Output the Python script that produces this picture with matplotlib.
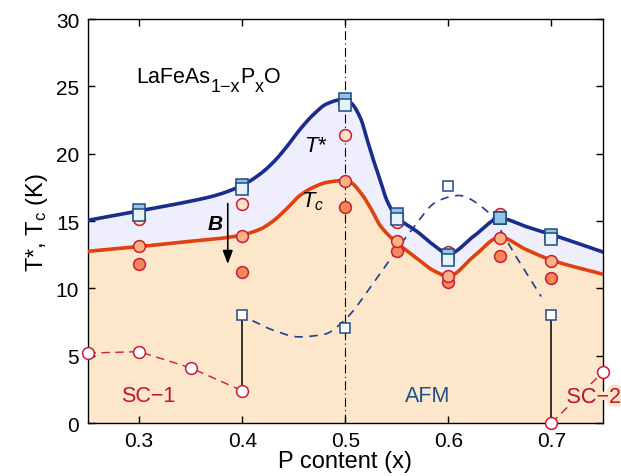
import numpy as np
import matplotlib
matplotlib.use('Agg')
import matplotlib.pyplot as plt
import matplotlib.patheffects as pe

plt.rcParams['font.family'] = ['Liberation Sans', 'DejaVu Sans']
plt.rcParams['mathtext.fontset'] = 'custom'
plt.rcParams['mathtext.rm'] = 'Liberation Sans'
plt.rcParams['mathtext.it'] = 'Liberation Sans:italic'
plt.rcParams['mathtext.bf'] = 'Liberation Sans:bold'

# T* curve (upper boundary)
tstar_x = [0.25, 0.30, 0.345, 0.374, 0.40, 0.4175, 0.43, 0.443, 0.456, 0.469,
           0.482, 0.497, 0.505, 0.515, 0.521, 0.527, 0.534, 0.540, 0.547,
           0.553, 0.570, 0.586, 0.60, 0.625, 0.65, 0.675, 0.70, 0.75]
tstar_y = [15.05, 15.76, 16.4, 16.9, 17.65, 18.5, 19.35, 20.5, 21.8, 22.9,
           23.7, 24.02, 23.8, 22.6, 21.1, 19.6, 18.0, 16.6, 15.6,
           15.1, 14.2, 13.2, 12.55, 13.9, 15.2, 14.6, 14.0, 12.7]

# Tc curve
tc_x = [0.25, 0.30, 0.345, 0.396, 0.4175, 0.43, 0.443, 0.456, 0.469, 0.482,
        0.497, 0.505, 0.515, 0.525, 0.534, 0.544, 0.553, 0.570, 0.586, 0.60,
        0.625, 0.65, 0.675, 0.70, 0.75]
tc_y = [12.75, 13.1, 13.46, 13.9, 14.4, 15.0, 15.9, 16.9, 17.5, 17.87,
        18.0, 17.87, 17.1, 15.9, 14.65, 13.8, 13.2, 12.2, 11.3, 10.9,
        12.4, 13.8, 12.9, 12.1, 11.05]

# T* squares (two overlapping sets)
sq_x = [0.30, 0.40, 0.50, 0.55, 0.60, 0.65, 0.70]
sq_hi = [15.8, 17.7, 24.05, 15.5, 12.5, 15.2, 14.0]
sq_lo = [15.45, 17.35, 23.65, 15.15, 12.1, 15.2, 13.65]

# circles: onset (light), midpoint (medium), zero resistance (dark)
circ_x = [0.30, 0.40, 0.50, 0.55, 0.60, 0.65, 0.70]
circ_top = [15.15, 16.25, 21.4, 14.9, 12.7, 15.5, 13.8]
circ_mid = [13.15, 13.9, 17.95, 13.5, 10.9, 13.75, 12.0]
circ_low = [11.8, 11.25, 16.05, 12.8, 10.45, 12.4, 10.8]

# SC-1 and SC-2 open circles
sc1_x = [0.25, 0.30, 0.35, 0.40]
sc1_y = [5.2, 5.3, 4.1, 2.4]
sc2_x = [0.70, 0.75]
sc2_y = [0.0, 3.8]

# AFM open squares and dashed guide
afm_x = [0.40, 0.50, 0.60, 0.70]
afm_y = [8.0, 7.05, 17.6, 8.0]
afmc_x = [0.41, 0.43, 0.455, 0.48, 0.50, 0.53, 0.563, 0.59, 0.61, 0.635, 0.667, 0.69]
afmc_y = [7.6, 6.9, 6.4, 6.6, 7.7, 10.7, 14.2, 16.5, 16.9, 15.9, 12.2, 9.4]

# vertical bars (x, bottom, top)
bar_x = [0.40, 0.70]
bar_lo = [2.4, 0.0]
bar_hi = [8.0, 8.0]

xticks = [0.3, 0.4, 0.5, 0.6, 0.7]
yticks = [0, 5, 10, 15, 20, 25, 30]


def pchip(xk, yk, xs):
    xk = np.asarray(xk, float)
    yk = np.asarray(yk, float)
    h = np.diff(xk)
    d = np.diff(yk) / h
    m = np.zeros_like(yk)
    m[0] = d[0]
    m[-1] = d[-1]
    for k in range(1, len(xk) - 1):
        if d[k - 1] * d[k] <= 0:
            m[k] = 0.0
        else:
            w1 = 2 * h[k] + h[k - 1]
            w2 = h[k] + 2 * h[k - 1]
            m[k] = (w1 + w2) / (w1 / d[k - 1] + w2 / d[k])
    idx = np.clip(np.searchsorted(xk, xs) - 1, 0, len(xk) - 2)
    t = (xs - xk[idx]) / h[idx]
    h00 = 2 * t**3 - 3 * t**2 + 1
    h10 = t**3 - 2 * t**2 + t
    h01 = -2 * t**3 + 3 * t**2
    h11 = t**3 - t**2
    return (h00 * yk[idx] + h10 * h[idx] * m[idx] +
            h01 * yk[idx + 1] + h11 * h[idx] * m[idx + 1])


fig = plt.figure(figsize=(6.21, 4.77), dpi=100)
ax = fig.add_axes([0.141, 0.111, 0.830, 0.847])

xs = np.linspace(0.25, 0.75, 1000)
tstar_s = pchip(tstar_x, tstar_y, xs)
tc_s = pchip(tc_x, tc_y, xs)

ax.fill_between(xs, 0, tc_s, color='#fde7ca', lw=0, zorder=0)
ax.fill_between(xs, tc_s, tstar_s, color='#eeeefc', lw=0, zorder=0)

ax.axvline(0.5, color='k', lw=0.8, ls=(0, (8, 3, 1, 3)), zorder=1)

for bx, lo, hi in zip(bar_x, bar_lo, bar_hi):
    ax.plot([bx, bx], [lo, hi], color='k', lw=1.1, zorder=2)

axs = np.linspace(afmc_x[0], afmc_x[-1], 300)
ax.plot(axs, pchip(afmc_x, afmc_y, axs), color='#1f3d8f', lw=1.2,
        ls=(0, (5, 4)), zorder=2)

ax.plot(xs, tc_s, color='#e0410f', lw=2.6, zorder=3)
ax.plot(xs, tstar_s, color='#1b2d8c', lw=2.6, zorder=3)

ax.plot(sc1_x, sc1_y, color='#cc1a3a', lw=1.0, ls=(0, (6, 4)), zorder=3)
ax.plot(sc2_x, sc2_y, color='#cc1a3a', lw=1.0, ls=(0, (6, 4)), zorder=3)

ms_c = 8.5
ax.plot(circ_x, circ_low, 'o', ms=ms_c, mfc='#f5875a', mec='#cc1a3a', mew=1.1, zorder=4)
ax.plot(circ_x, circ_mid, 'o', ms=ms_c, mfc='#fbb27c', mec='#cc1a3a', mew=1.1, zorder=4)
ax.plot(circ_x, circ_top, 'o', ms=ms_c, mfc='#fde3c4', mec='#cc1a3a', mew=1.1, zorder=4)

ax.plot(sq_x, sq_hi, 's', ms=8, mfc='#92c5e3', mec='#1f4c85', mew=1.1, zorder=5)
ax.plot(sq_x, sq_lo, 's', ms=8, mfc='#e6f1f8', mec='#1f4c85', mew=1.1, zorder=5)
ax.plot(sq_x, sq_hi, 's', ms=8, mfc='#92c5e3', mec='#1f4c85', mew=1.1, zorder=5,
        markevery=[5])

ax.plot(afm_x, afm_y, 's', ms=7.5, mfc='white', mec='#1f4c85', mew=1.1, zorder=5)
ax.plot(sc1_x, sc1_y, 'o', ms=8.5, mfc='white', mec='#cc1a3a', mew=1.1, zorder=5,
        clip_on=False)
ax.plot(sc2_x, sc2_y, 'o', ms=8.5, mfc='white', mec='#cc1a3a', mew=1.1, zorder=5,
        clip_on=False)

# compound formula, built piece by piece so subscripts stay large
sub_off = 5.9
t = ax.text(0.297, 25.34, 'LaFeAs', fontsize=15.5, ha='left', va='baseline')
t = ax.annotate('1\u2212x', xy=(1, 0), xycoords=t, xytext=(0.5, -sub_off),
                textcoords='offset points', fontsize=13, va='bottom')
t = ax.annotate('P', xy=(1, 0), xycoords=t, xytext=(0, sub_off),
                textcoords='offset points', fontsize=15.5, va='bottom')
t = ax.annotate('x', xy=(1, 0), xycoords=t, xytext=(0.3, -sub_off),
                textcoords='offset points', fontsize=13, va='bottom')
t = ax.annotate('O', xy=(1, 0), xycoords=t, xytext=(0.3, sub_off),
                textcoords='offset points', fontsize=15.5, va='bottom')

ax.text(0.460, 20.6, r'$\mathit{T}$*', fontsize=16, ha='left', va='center')
ax.text(0.457, 16.5, r'$\mathit{T}_{\mathit{c}}$', fontsize=16, ha='left', va='center')
ax.text(0.374, 14.85, 'B', fontsize=15, ha='center', va='center',
        fontweight='bold', fontstyle='italic')
ax.annotate('', xy=(0.386, 11.6), xytext=(0.386, 16.5),
            arrowprops=dict(arrowstyle='-|>,head_width=0.3,head_length=0.8',
                            color='k', lw=1.2), zorder=6)
ax.text(0.309, 2.05, 'SC\u22121', fontsize=15.5, color='#c8102e', ha='center', va='center')
ax.text(0.580, 2.05, 'AFM', fontsize=15.5, color='#1f4e8c', ha='center', va='center')
ax.text(0.741, 1.9, 'SC\u22122', fontsize=15.5, color='#c8102e', ha='center', va='center',
        zorder=6, clip_on=False,
        path_effects=[pe.withStroke(linewidth=5, foreground='#fde7ca')])

ax.set_xlim(0.25, 0.75)
ax.set_ylim(0, 30)
ax.set_xticks(xticks)
ax.set_yticks(yticks)
ax.set_xticklabels(['%.1f' % v for v in xticks])
ax.tick_params(direction='in', top=True, right=True, length=5, width=1,
               labelsize=15, pad=6)
for sp in ax.spines.values():
    sp.set_linewidth(1.0)
ax.set_xlabel('P content (x)', fontsize=17, labelpad=0)
ax.set_ylabel(r'T*, T$_{\mathrm{c}}$ (K)', fontsize=17, labelpad=4)

fig.savefig('out.png', dpi=100)
